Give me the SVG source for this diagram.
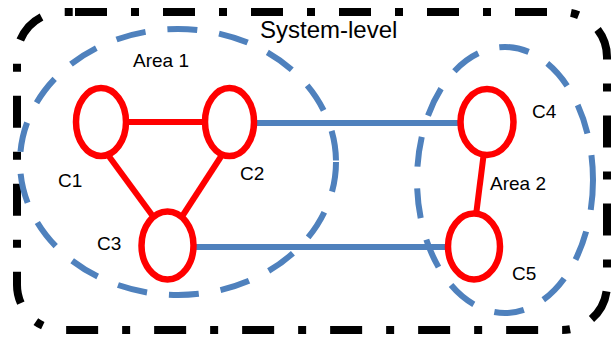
<svg xmlns="http://www.w3.org/2000/svg" width="615" height="339" viewBox="0 0 615 339">
<style>
.sys{fill:none;stroke:#000;stroke-width:8;stroke-dasharray:32 24 8 24}
.area{fill:none;stroke:#4F81BD;stroke-width:6;stroke-dasharray:30 22}
.node{fill:#fff;stroke:#FF0000;stroke-width:6.5}
.red{stroke:#FF0000;stroke-width:6;fill:none}
.blue{stroke:#4F81BD;stroke-width:6;fill:none}
text{font-family:"Liberation Sans",Arial,sans-serif;fill:#000}
.lbl{font-size:19px}
</style>
<rect width="615" height="339" fill="#fff"/>
<g id="system-level">
<path class="sys" d="M75,12 H562 A45,45 0 0 1 607,57 V285 A45,45 0 0 1 562,330 H62 A45,45 0 0 1 17,285 V57 A45,45 0 0 1 62,12 Z"/>
<text x="260" y="38" font-size="24">System-level</text>
</g>
<g id="area1">
<ellipse class="area" cx="178" cy="162" rx="158" ry="133"/>
<text class="lbl" x="133" y="67">Area 1</text>
</g>
<g id="area2">
<ellipse class="area" cx="505" cy="180" rx="88" ry="133"/>
<text class="lbl" x="490" y="190">Area 2</text>
</g>
<g id="connectors">
<line class="red" x1="128" y1="122" x2="205" y2="122"/>
<line class="red" x1="108" y1="155" x2="152" y2="215"/>
<line class="red" x1="222" y1="155" x2="183" y2="215"/>
<line class="red" x1="484" y1="152" x2="476" y2="215"/>
<line class="blue" x1="254" y1="123" x2="460" y2="123"/>
<line class="blue" x1="193" y1="247" x2="448" y2="247"/>
</g>
<g id="C1"><ellipse class="node" cx="101" cy="122" rx="25" ry="34"/><text class="lbl" x="58" y="187">C1</text></g>
<g id="C2"><ellipse class="node" cx="229.5" cy="122" rx="24.5" ry="34"/><text class="lbl" x="240" y="180">C2</text></g>
<g id="C3"><ellipse class="node" cx="167.5" cy="245.5" rx="26" ry="34"/><text class="lbl" x="97" y="250">C3</text></g>
<g id="C4"><ellipse class="node" cx="487" cy="122" rx="26.5" ry="33"/><text class="lbl" x="532" y="118">C4</text></g>
<g id="C5"><ellipse class="node" cx="474" cy="246.5" rx="26" ry="33"/><text class="lbl" x="512" y="280">C5</text></g>
</svg>
